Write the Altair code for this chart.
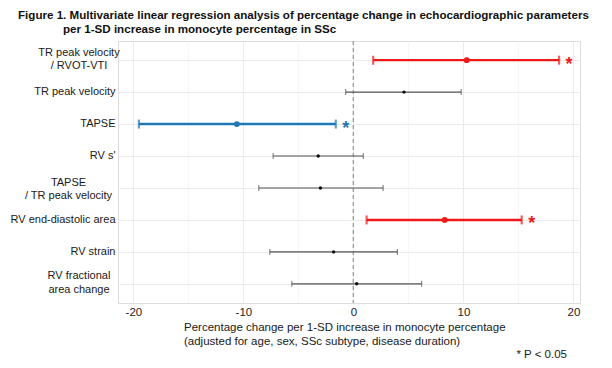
import altair as alt
import pandas as pd

# ---- data ----
params = [
    "TR peak velocity\n/ RVOT-VTI",
    "TR peak velocity",
    "TAPSE",
    "RV s'",
    "TAPSE\n/ TR peak velocity",
    "RV end-diastolic area",
    "RV strain",
    "RV fractional\narea change",
]
estimate = [10.3, 4.6, -10.6, -3.2, -3.0, 8.3, -1.8, 0.3]
ci_low = [1.8, -0.7, -19.5, -7.3, -8.6, 1.2, -7.6, -5.6]
ci_high = [18.7, 9.8, -1.6, 0.9, 2.7, 15.3, 4.0, 6.2]
group = ["pos", "ns", "neg", "ns", "ns", "pos", "ns", "ns"]

major_ticks = [-20, -10, 0, 10, 20]
minor_ticks = [-15, -5, 5, 15]

title_line1 = "Figure 1. Multivariate linear regression analysis of percentage change in echocardiographic parameters"
title_line2 = "per 1-SD increase in monocyte percentage in SSc"
xtitle_line1 = "Percentage change per 1-SD increase in monocyte percentage"
xtitle_line2 = "(adjusted for age, sex, SSc subtype, disease duration)"
note = "* P < 0.05"

df = pd.DataFrame({"param": params, "est": estimate, "lo": ci_low, "hi": ci_high, "group": group})
minor_df = pd.DataFrame({"v": minor_ticks})

FONT = "Liberation Sans"
GRID = "#ebebeb"
GRAY = "#555555"
RED = "#ee1a1a"
BLUE = "#1f77b4"

x_scale = alt.Scale(domain=[-21.4, 20.6], nice=False, zero=False)
x_axis = alt.Axis(values=major_ticks, title=None, grid=True, gridColor=GRID, gridWidth=1,
                  ticks=False, tickSize=0, domain=False, labelFontSize=11.5, labelFont=FONT,
                  labelColor="#222222", labelPadding=3.5, labelExpr="datum.value + ''")


def X(field):
    return alt.X(field, type="quantitative", scale=x_scale, axis=x_axis)


Y = alt.Y("param:N", sort=params, scale=alt.Scale(type="point", padding=0.6),
          axis=alt.Axis(labels=False, ticks=False, domain=False, title=None, grid=True,
                        gridColor=GRID, gridWidth=1))

color = alt.Color("group:N", scale=alt.Scale(domain=["pos", "neg"], range=[RED, BLUE]), legend=None)

base = alt.Chart(df)
ns = base.transform_filter(alt.datum.group == "ns")
sig = base.transform_filter(alt.datum.group != "ns")

minor = alt.Chart(minor_df).mark_rule(color="#f3f3f3", strokeWidth=0.8).encode(x=X("v"))
zero = alt.Chart(minor_df).mark_rule(color="#a0a0a0", strokeDash=[4, 3], strokeWidth=1).encode(
    x=alt.datum(0))

ns_rule = ns.mark_rule(color=GRAY, strokeWidth=1.2).encode(x=X("lo"), x2="hi", y=Y)
ns_cap_lo = ns.mark_tick(color=GRAY, thickness=1.2, size=6, orient="vertical").encode(x=X("lo"), y=Y)
ns_cap_hi = ns.mark_tick(color=GRAY, thickness=1.2, size=6, orient="vertical").encode(x=X("hi"), y=Y)
ns_pt = ns.mark_circle(size=12, color="#111111", opacity=1).encode(x=X("est"), y=Y)

sig_rule = sig.mark_rule(strokeWidth=2.4).encode(x=X("lo"), x2="hi", y=Y, color=color)
sig_cap_lo = sig.mark_tick(thickness=2.2, size=9, orient="vertical").encode(x=X("lo"), y=Y, color=color)
sig_cap_hi = sig.mark_tick(thickness=2.2, size=9, orient="vertical").encode(x=X("hi"), y=Y, color=color)
sig_pt = sig.mark_circle(size=34, opacity=1).encode(x=X("est"), y=Y, color=color)
star = sig.mark_text(text="*", fontSize=18, fontWeight="bold", font=FONT, dx=10, dy=9.5,
                     baseline="alphabetic", align="center").encode(x=X("hi"), y=Y, color=color)

LBL = dict(fontSize=11, font=FONT, color="#1a1a1a")
single = [p for p in params if "\n" not in p]
lab_single = base.transform_filter(alt.FieldOneOfPredicate(field="param", oneOf=single)).mark_text(
    align="right", baseline="middle", **LBL
).encode(y=Y, x=alt.value(-2.5), text="param:N")
lab_multi_a = base.transform_filter(
    alt.FieldOneOfPredicate(field="param", oneOf=[params[0], params[7]])).mark_text(
    align="center", baseline="middle", lineBreak="\n", lineHeight=13.5, dy=-7.5, **LBL
).encode(y=Y, x=alt.value(-39), text="param:N")
lab_multi_b = base.transform_filter(
    alt.FieldOneOfPredicate(field="param", oneOf=[params[4]])).mark_text(
    align="center", baseline="middle", lineBreak="\n", lineHeight=13.5, dy=-5, **LBL
).encode(y=Y, x=alt.value(-49.5), text="param:N")


def label(txt, x, y, size=11.5, weight="normal", align="left", color="#1a1a1a"):
    return alt.Chart(pd.DataFrame({"t": [txt]})).mark_text(
        align=align, baseline="alphabetic", fontSize=size, fontWeight=weight, font=FONT, color=color
    ).encode(text="t:N", x=alt.value(x), y=alt.value(y))


t1 = label(title_line1, -100, -22, size=11.6, weight="bold", color="#111111")
t2 = label(title_line2, -55, -8.5, size=11.6, weight="bold", color="#111111")
xt1 = label(xtitle_line1, 66, 289.7)
xt2 = label(xtitle_line2, 66, 303.7)
nt = label(note, 449, 316.5, align="right")

chart = alt.layer(
    minor, zero, ns_rule, ns_cap_lo, ns_cap_hi, ns_pt,
    sig_rule, sig_cap_lo, sig_cap_hi, sig_pt, star,
    lab_single, lab_multi_a, lab_multi_b, t1, t2, xt1, xt2, nt
).properties(
    width=462, height=262, autosize="none",
    padding={"left": 110, "top": 33, "right": 24, "bottom": 57}
).configure_view(stroke=None).configure(background="white")

chart.save("out.html", embed_options={"renderer": "svg", "actions": False})
